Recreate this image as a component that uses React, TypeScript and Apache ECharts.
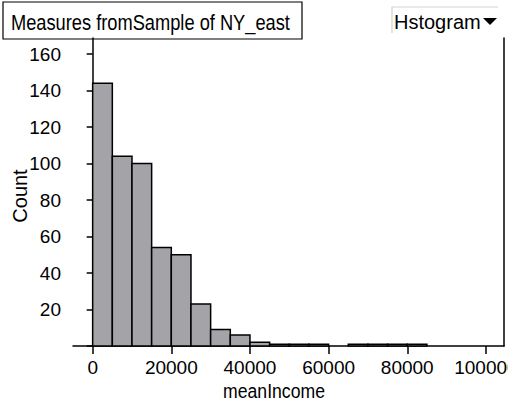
import React, { useEffect, useRef } from "react";
import * as echarts from "echarts";

const binStarts = [0, 5000, 10000, 15000, 20000, 25000, 30000, 35000, 40000, 45000, 50000, 55000, 60000, 65000, 70000, 75000, 80000];
const binWidth = 5000;
const counts = [144, 104, 100, 54, 50, 23, 9, 6, 2, 1, 1, 1, 0, 1, 1, 1, 1];
const xTickLabels = [0, 20000, 40000, 60000, 80000, 100000];
const yTickLabels = [20, 40, 60, 80, 100, 120, 140, 160];
const titleText = "Measures fromSample of NY_east";
const menuText = "Hstogram";
const xTitle = "meanIncome";
const yTitle = "Count";

const FONT = "'Liberation Sans', Arial, sans-serif";

export default function App() {
  const ref = useRef<HTMLDivElement>(null);
  useEffect(() => {
    if (!ref.current) return;
    const chart = echarts.init(ref.current, undefined, { renderer: "svg" });
    const data = binStarts.map((s, i) => [s, s + binWidth, counts[i]]);
    chart.setOption({
      animation: false,
      grid: { left: 73, right: 4, top: 38, bottom: 60, containLabel: false, outerBoundsMode: "none" },
      xAxis: {
        type: "value",
        min: -5000,
        max: 104600,
        axisLine: { show: true, onZero: false, lineStyle: { color: "#000", width: 1.5 } },
        axisTick: { show: true, length: 8, lineStyle: { color: "#000", width: 1.5 }, customValues: xTickLabels },
        axisLabel: {
          color: "#000",
          fontSize: 19,
          fontFamily: FONT,
          margin: 12,
          customValues: xTickLabels,
          showMaxLabel: true,
          hideOverlap: false,
          formatter: (v: number) => String(v),
        },
        splitLine: { show: false },
      },
      yAxis: [
        {
          type: "value",
          min: 0,
          max: 168.8,
          axisLine: { show: true, lineStyle: { color: "#000", width: 1.5 } },
          axisTick: { show: true, length: 6, lineStyle: { color: "#000", width: 1.5 }, customValues: [0, ...yTickLabels] },
          axisLabel: {
            color: "#000",
            fontSize: 19,
            fontFamily: FONT,
            margin: 12,
            customValues: yTickLabels,
            formatter: (v: number) => String(v),
          },
          splitLine: { show: false },
        },
        {
          type: "value",
          position: "right",
          min: 0,
          max: 168.8,
          axisLine: { show: true, lineStyle: { color: "#000", width: 1.5 } },
          axisTick: { show: false },
          axisLabel: { show: false },
          splitLine: { show: false },
        },
      ],
      series: [
        {
          type: "custom",
          data,
          renderItem: (params: any, api: any) => {
            const x0 = api.value(0);
            const x1 = api.value(1);
            const c = api.value(2);
            if (!c) return null;
            const p0 = api.coord([x0, c]);
            const p1 = api.coord([x1, 0]);
            return {
              type: "rect",
              shape: { x: p0[0], y: p0[1], width: p1[0] - p0[0], height: p1[1] - p0[1] },
              style: { fill: "#a3a3a8", stroke: "#000", lineWidth: 1.5 },
            };
          },
        },
      ],
      graphic: [
        {
          type: "rect",
          shape: { x: 3, y: 2, width: 299, height: 37 },
          style: { fill: "#fff", stroke: "#000", lineWidth: 1.2 },
        },
        {
          type: "text",
          x: 11,
          y: 22,
          scaleX: 0.83,
          style: { text: titleText, fontSize: 22, fontFamily: FONT, fill: "#000", verticalAlign: "middle" },
        },
        {
          type: "polyline",
          shape: { points: [[392, 33], [392, 7], [498, 7]] },
          style: { stroke: "#d4d4cc", lineWidth: 1.2, fill: "none" },
        },
        {
          type: "text",
          x: 394,
          y: 22,
          style: { text: menuText, fontSize: 20, fontFamily: FONT, fill: "#000", verticalAlign: "middle" },
        },
        {
          type: "polygon",
          shape: { points: [[483, 18], [497, 18], [490, 25]] },
          style: { fill: "#000" },
        },
        {
          type: "text",
          x: 274,
          y: 390,
          scaleX: 0.84,
          style: { text: xTitle, fontSize: 21, fontFamily: FONT, fill: "#000", align: "center", verticalAlign: "middle" },
        },
        {
          type: "text",
          x: 20,
          y: 196,
          rotation: Math.PI / 2,
          style: { text: yTitle, fontSize: 20, fontFamily: FONT, fill: "#000", align: "center", verticalAlign: "middle" },
        },
      ],
    });
    return () => chart.dispose();
  }, []);
  return <div ref={ref} style={{ width: 508, height: 406, position: "absolute", left: 0, top: 0 }} />;
}
